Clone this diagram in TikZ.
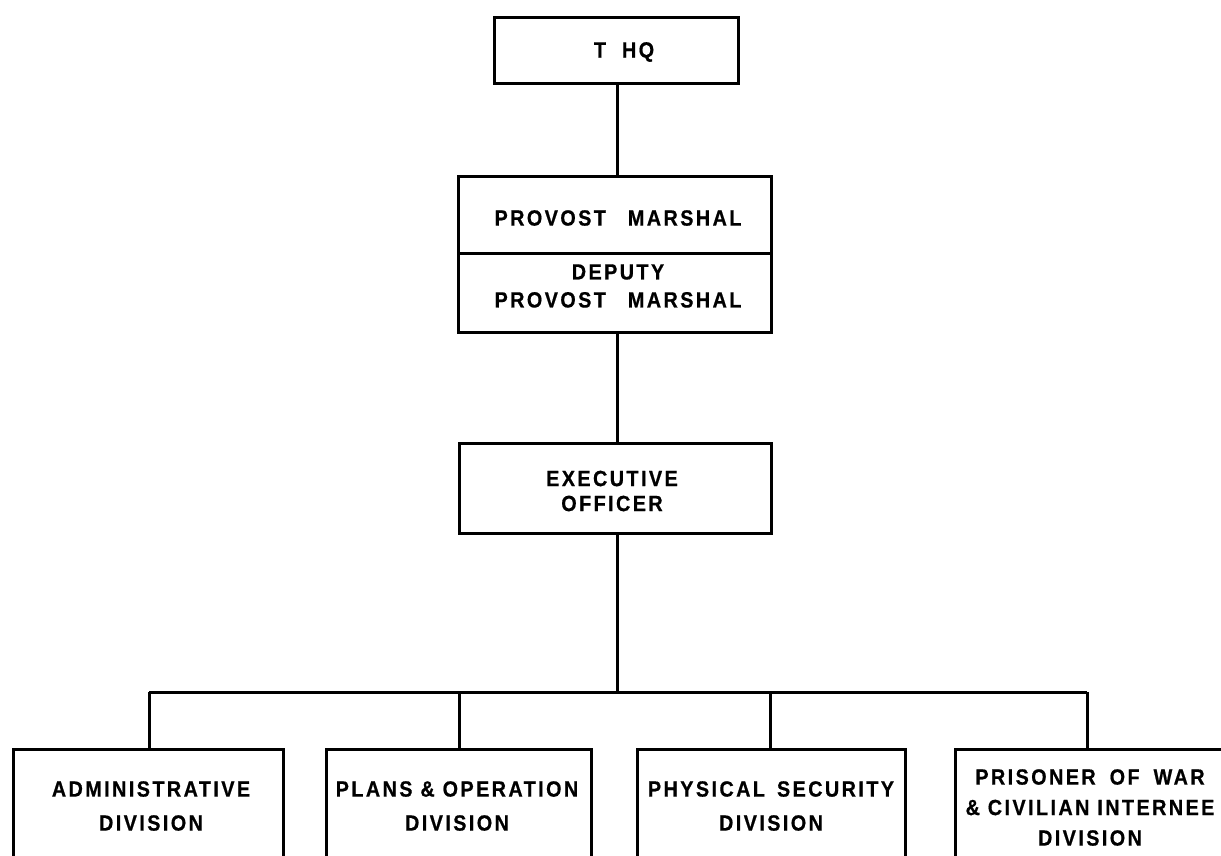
\documentclass[tikz,border=0pt]{standalone}
\usepackage{fontspec}
\newfontfamily\lbfont[LetterSpace=11,FakeStretch=0.9,BoldFeatures={FakeBold=0.6}]{Liberation Sans}
\begin{document}
\begin{tikzpicture}[x=1pt,y=-1pt,
  box/.style={draw, line width=3pt, inner sep=0pt},
  lbl/.style={align=center, inner sep=0pt, font=\lbfont\bfseries\fontsize{22}{28}\selectfont},
  conn/.style={line width=3pt}]
\useasboundingbox[fill=white] (0,0) rectangle (1221,855);
% boxes
\node[box, minimum width=244pt, minimum height=66pt] (thq) at (616,50) {};
\node[box, minimum width=313pt, minimum height=77pt] (pm) at (614.5,214.5) {};
\node[box, minimum width=313pt, minimum height=79pt] (dpm) at (614.5,292.5) {};
\node[box, minimum width=312pt, minimum height=90pt] (exo) at (615,488) {};
\node[box, minimum width=270pt, minimum height=130pt, anchor=north] (b1) at (148,748) {};
\node[box, minimum width=265pt, minimum height=130pt, anchor=north] (b2) at (459,748) {};
\node[box, minimum width=268pt, minimum height=130pt, anchor=north] (b3) at (771,748) {};
\node[box, minimum width=272pt, minimum height=130pt, anchor=north] (b4) at (1091,748) {};
% labels
\node[lbl] (tthq) at (624,52) {T\hspace{16pt}HQ};
\node[lbl] (tpm) at (618,218) {PROVOST\hspace{22pt}MARSHAL};
\node[lbl] (tdpm) at (618,286) {DEPUTY\\PROVOST\hspace{22pt}MARSHAL};
\node[lbl, font=\lbfont\bfseries\fontsize{22}{25}\selectfont] (texo) at (612,491) {EXECUTIVE\\OFFICER};
\node[lbl, font=\lbfont\bfseries\fontsize{22}{34}\selectfont] (tb1) at (151,806) {ADMINISTRATIVE\\DIVISION};
\node[lbl, font=\lbfont\bfseries\fontsize{22}{34}\selectfont] (tb2) at (457,806) {PLANS \& OPERATION\\DIVISION};
\node[lbl, font=\lbfont\bfseries\fontsize{22}{34}\selectfont] (tb3) at (771,806) {PHYSICAL\hspace{12pt}SECURITY\\DIVISION};
\node[lbl, font=\lbfont\bfseries\fontsize{22}{30.5}\selectfont] (tb4) at (1090,807.5) {PRISONER\hspace{14pt}OF\hspace{14pt}WAR\\\& CIVILIAN INTERNEE\\DIVISION};
% connectors
\coordinate (hub) at (617,692);
\coordinate (d1) at (149,692);
\coordinate (d2) at (459,692);
\coordinate (d3) at (770,692);
\coordinate (d4) at (1087,692);
\draw[conn] (thq.south -| 617,0) -- (pm.north -| 617,0);
\draw[conn] (dpm.south -| 617,0) -- (exo.north -| 617,0);
\draw[conn] (exo.south -| hub) -- (hub);
\draw[conn] (d1) -- (d4);
\draw[conn] (d1) -- (d1 |- b1.north);
\draw[conn] (d2) -- (d2 |- b2.north);
\draw[conn] (d3) -- (d3 |- b3.north);
\draw[conn] (d4) -- (d4 |- b4.north);
\end{tikzpicture}
\end{document}
